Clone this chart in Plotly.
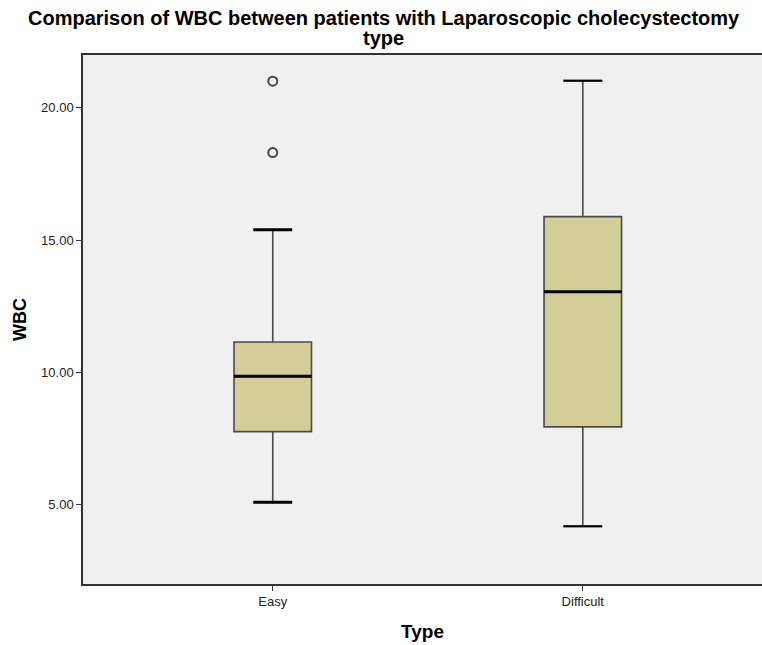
import plotly.graph_objects as go

categories = ["Easy", "Difficult"]
positions = [0, 1]
q1 = [7.76, 7.94]
median = [9.85, 13.05]
q3 = [11.15, 15.89]
lower_whisker = [5.09, 4.18]
upper_whisker = [15.39, 21.03]
outlier_x = [0, 0]
outlier_y = [18.31, 21.01]
y_ticks = [5, 10, 15, 20]
cap_widths = [3, 2]

box_w = 0.25
fig = go.Figure()
fig.add_trace(go.Box(
    x=positions, q1=q1, median=median, q3=q3,
    lowerfence=lower_whisker, upperfence=upper_whisker,
    width=box_w, whiskerwidth=0.5,
    fillcolor="#d3ce98", line=dict(color="#4a4a4a", width=1.6),
    boxpoints=False, showlegend=False, hoverinfo="skip",
))
for p, m in zip(positions, median):
    fig.add_trace(go.Scatter(
        x=[p - box_w / 2, p + box_w / 2], y=[m, m], mode="lines",
        line=dict(color="black", width=3), showlegend=False, hoverinfo="skip",
    ))
for p, lo, hi, cw in zip(positions, lower_whisker, upper_whisker, cap_widths):
    for v in (lo, hi):
        fig.add_trace(go.Scatter(
            x=[p - box_w / 4, p + box_w / 4], y=[v, v], mode="lines",
            line=dict(color="black", width=cw), showlegend=False, hoverinfo="skip",
        ))
fig.add_trace(go.Scatter(
    x=outlier_x, y=outlier_y, mode="markers",
    marker=dict(symbol="circle-open", size=9, color="#444", line=dict(width=2)),
    showlegend=False, hoverinfo="skip",
))

title_lines = ["Comparison of WBC between patients with Laparoscopic cholecystectomy", "type"]
for txt, yy in zip(title_lines, [1.069, 1.033]):
    fig.add_annotation(
        text="<b>" + txt + "</b>", xref="paper", yref="paper",
        x=0.443, y=yy, xanchor="center", yanchor="middle", showarrow=False,
        font=dict(size=20, color="black"),
    )

fig.update_layout(
    width=762, height=645,
    margin=dict(l=83, r=0, t=55, b=61),
    paper_bgcolor="white", plot_bgcolor="#f0f0f0",
    font=dict(family="Liberation Sans, Arial, sans-serif", color="#222"),
    xaxis=dict(
        range=[-0.612, 1.578], tickvals=positions, ticktext=categories,
        showline=True, linecolor="#333", linewidth=1.5, mirror=True,
        ticks="outside", ticklen=5, tickcolor="#333",
        showgrid=False, zeroline=False,
        tickfont=dict(size=13, color="#222"),
        title=dict(text="<b>Type</b>", font=dict(size=19, color="black"), standoff=16),
    ),
    yaxis=dict(
        range=[2.0, 22.0], tickvals=y_ticks, tickformat=".2f",
        showline=True, linecolor="#333", linewidth=1.5,
        ticks="outside", ticklen=5, tickcolor="#333",
        showgrid=False, zeroline=False,
        tickfont=dict(size=13, color="#222"),
        title=dict(text="<b>WBC</b>", font=dict(size=18, color="black"), standoff=10),
    ),
)
fig.write_html(
    "out.html",
    config={"displayModeBar": False},
    post_script="document.body.style.margin='0';document.body.style.overflow='hidden';",
)
